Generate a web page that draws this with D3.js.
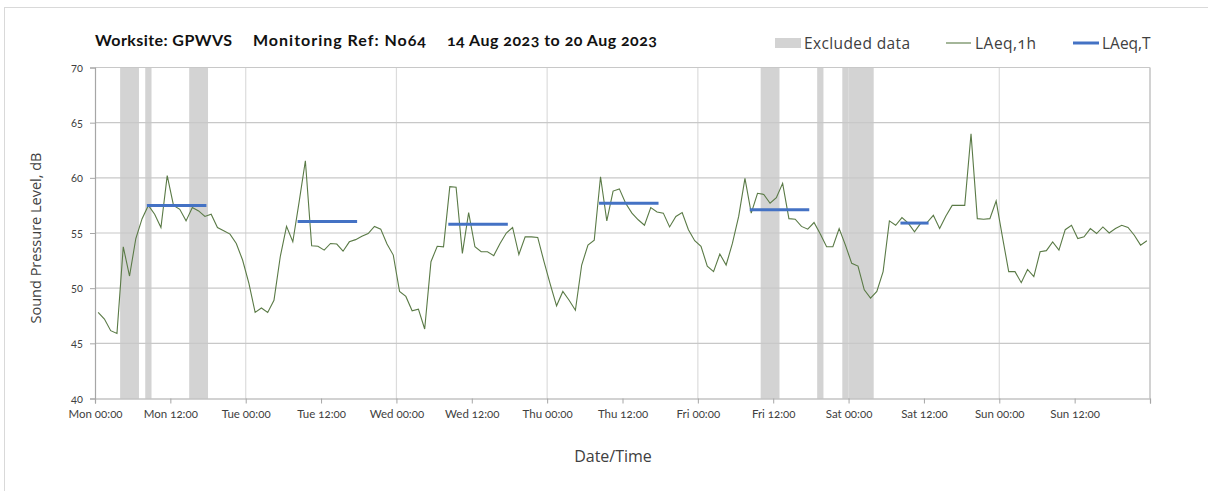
<!DOCTYPE html>
<html>
<head>
<meta charset="utf-8">
<script src="https://cdn.jsdelivr.net/npm/d3@7"></script>
<style>
  html, body { margin: 0; padding: 0; background: #ffffff; }
  svg { display: block; font-family: "Lato", "Open Sans", sans-serif; font-variant-numeric: oldstyle-nums; }
</style>
</head>
<body>
<svg id="chart" width="1208" height="491"></svg>
<script>
// Hourly LAeq,1h values (dB), Mon 14 Aug 00:00 to Sun 20 Aug 23:00
const monday    = [47.8, 47.2, 46.15, 45.9, 53.75, 51.1, 54.5, 56.3, 57.5, 56.7, 55.5, 60.2, 57.5, 57.15, 56.1, 57.3, 57.0, 56.5, 56.7, 55.5, 55.2, 54.9, 54.05, 52.55];
const tuesday   = [50.45, 47.8, 48.2, 47.8, 48.9, 52.85, 55.6, 54.2, 57.8, 61.55, 53.85, 53.8, 53.45, 54.05, 54.0, 53.35, 54.2, 54.4, 54.7, 54.95, 55.6, 55.35, 54.0, 53.0];
const wednesday = [49.7, 49.25, 47.95, 48.1, 46.3, 52.4, 53.8, 53.75, 59.2, 59.15, 53.15, 56.85, 53.75, 53.3, 53.3, 52.95, 54.05, 55.0, 55.5, 53.05, 54.65, 54.65, 54.6, 52.4];
const thursday  = [50.35, 48.4, 49.7, 48.9, 48.0, 52.1, 53.9, 54.35, 60.1, 56.1, 58.8, 59.0, 57.7, 56.8, 56.2, 55.7, 57.3, 56.9, 56.8, 55.55, 56.5, 56.85, 55.3, 54.3];
const friday    = [53.8, 52.0, 51.5, 53.1, 52.1, 54.05, 56.5, 59.95, 56.8, 58.6, 58.5, 57.7, 58.2, 59.5, 56.3, 56.25, 55.6, 55.35, 55.95, 54.9, 53.75, 53.75, 55.4, 53.9];
const saturday  = [52.25, 52.0, 49.85, 49.1, 49.7, 51.5, 56.1, 55.7, 56.4, 55.9, 55.1, 55.9, 55.95, 56.6, 55.4, 56.55, 57.5, 57.5, 57.5, 64.0, 56.3, 56.25, 56.3, 57.9];
const sunday    = [54.65, 51.5, 51.5, 50.5, 51.7, 51.05, 53.3, 53.4, 54.2, 53.45, 55.3, 55.7, 54.5, 54.65, 55.4, 54.95, 55.55, 55.0, 55.4, 55.7, 55.5, 54.8, 53.9, 54.3];

// Excluded periods, [start hour, end hour] from Mon 00:00
const excludedPeriods = [[4, 7], [8, 9], [15, 18], [106, 109], [115, 116], [119, 124]];

// LAeq,T over each daytime period: [start hour, end hour, level dB]
const laeqTPeriods = [
  [8.5, 17.5, 57.5],
  [32.5, 41.5, 56.05],
  [56.5, 65.5, 55.8],
  [80.5, 89.5, 57.7],
  [104.5, 113.5, 57.1],
  [128.5, 132.5, 55.9]
];

const xTickLabels = ["Mon 00:00", "Mon 12:00", "Tue 00:00", "Tue 12:00", "Wed 00:00", "Wed 12:00",
  "Thu 00:00", "Thu 12:00", "Fri 00:00", "Fri 12:00", "Sat 00:00", "Sat 12:00", "Sun 00:00", "Sun 12:00"];
const yTicks = [40, 45, 50, 55, 60, 65, 70];

const titleParts = ["Worksite: GPWVS", "Monitoring Ref: No64", "14 Aug 2023 to 20 Aug 2023"];
const legendLabels = ["Excluded data", "LAeq,1h", "LAeq,T"];

const hourly = [].concat(monday, tuesday, wednesday, thursday, friday, saturday, sunday);
// each hourly value sits at the middle of its hour
const points = hourly.map((v, i) => ({ h: i + 0.5, v }));

const svg = d3.select("#chart");
const plot = { left: 95, right: 1150, top: 67.5, bottom: 398.5 };

const x = d3.scaleLinear().domain([0, 168]).range([plot.left, plot.right]);
const y = d3.scaleLinear().domain([40, 70]).range([plot.bottom, plot.top]);

// outer frame
svg.append("rect")
  .attr("x", 4.5).attr("y", 7.5).attr("width", 1300).attr("height", 600)
  .attr("fill", "none").attr("stroke", "#d9d9d9").attr("stroke-width", 1);

// excluded data bands
svg.append("g").selectAll("rect").data(excludedPeriods).join("rect")
  .attr("x", d => x(d[0]))
  .attr("width", d => x(d[1]) - x(d[0]))
  .attr("y", y(70))
  .attr("height", y(40) - y(70))
  .attr("fill", "#d3d3d3");

// vertical gridlines at midnight
const dayLines = d3.range(24, 168, 24);
svg.append("g").selectAll("line").data(dayLines).join("line")
  .attr("x1", d => x(d)).attr("x2", d => x(d))
  .attr("y1", y(70)).attr("y2", y(40))
  .attr("stroke", "#dcdcdc").attr("stroke-width", 1.2);

// right-hand boundary
svg.append("line")
  .attr("x1", x(168)).attr("x2", x(168))
  .attr("y1", y(70)).attr("y2", y(40))
  .attr("stroke", "#b4b4b4").attr("stroke-width", 1.2);

// horizontal gridlines
svg.append("g").selectAll("line").data(yTicks.filter(t => t > 40)).join("line")
  .attr("x1", x(0)).attr("x2", x(168))
  .attr("y1", d => y(d)).attr("y2", d => y(d))
  .attr("stroke", "#c8c8c8").attr("stroke-width", 1.2);

// y axis
const yAxis = svg.append("g")
  .attr("transform", `translate(${plot.left},0)`)
  .call(d3.axisLeft(y).tickValues(yTicks).tickSize(5).tickPadding(7).tickFormat(d3.format("d")));
yAxis.select(".domain").attr("stroke", "#a6a6a6").attr("stroke-width", 1.2);
yAxis.selectAll(".tick line").attr("stroke", "#a6a6a6");
yAxis.selectAll(".tick text")
  .attr("font-family", "Lato, sans-serif").attr("font-size", 11).attr("fill", "#404040");

// x axis
const xTickValues = d3.range(0, 169, 12);
const xAxis = svg.append("g")
  .attr("transform", `translate(0,${plot.bottom})`)
  .call(d3.axisBottom(x).tickValues(xTickValues).tickSize(5).tickPadding(6)
    .tickFormat((d, i) => xTickLabels[i] || ""));
xAxis.select(".domain").attr("stroke", "#a6a6a6").attr("stroke-width", 1.2);
xAxis.selectAll(".tick line").attr("stroke", "#a6a6a6");
xAxis.selectAll(".tick text")
  .attr("font-family", "Lato, sans-serif").attr("font-size", 11.5).attr("fill", "#404040");

// LAeq,1h line
const line = d3.line().x(d => x(d.h)).y(d => y(d.v));
svg.append("path")
  .datum(points)
  .attr("d", line)
  .attr("fill", "none")
  .attr("stroke", "#5a7a46")
  .attr("stroke-width", 1.1)
  .attr("stroke-linejoin", "miter");

// LAeq,T segments
svg.append("g").selectAll("line").data(laeqTPeriods).join("line")
  .attr("x1", d => x(d[0])).attr("x2", d => x(d[1]))
  .attr("y1", d => y(d[2])).attr("y2", d => y(d[2]))
  .attr("stroke", "#4472c4").attr("stroke-width", 3).attr("stroke-linecap", "square");

// title
const titleX = [95, 253, 447];
const titleW = [137, 173, 210];
const title = svg.append("text")
  .attr("y", 46)
  .attr("font-family", "Lato, sans-serif")
  .attr("font-weight", "bold")
  .attr("font-size", 16)
  .attr("fill", "#111111");
title.selectAll("tspan").data(titleParts).join("tspan")
  .attr("x", (d, i) => titleX[i])
  .attr("textLength", (d, i) => titleW[i])
  .attr("lengthAdjust", "spacing")
  .text(d => d);

// legend
const legend = svg.append("g")
  .attr("font-family", "'Open Sans', sans-serif")
  .attr("font-size", 15.5)
  .attr("fill", "#404040");
legend.append("rect")
  .attr("x", 775).attr("y", 38).attr("width", 26).attr("height", 10)
  .attr("fill", "#d3d3d3");
legend.append("text").attr("x", 804).attr("y", 48.5)
  .attr("textLength", 106).attr("lengthAdjust", "spacing").text(legendLabels[0]);
legend.append("line")
  .attr("x1", 946).attr("x2", 971).attr("y1", 43).attr("y2", 43)
  .attr("stroke", "#5a7a46").attr("stroke-width", 1.1);
legend.append("text").attr("x", 975).attr("y", 48.5)
  .attr("textLength", 61).attr("lengthAdjust", "spacing").text(legendLabels[1]);
legend.append("line")
  .attr("x1", 1073).attr("x2", 1099).attr("y1", 43).attr("y2", 43)
  .attr("stroke", "#4472c4").attr("stroke-width", 3);
legend.append("text").attr("x", 1102).attr("y", 48.5).text(legendLabels[2]);

// axis titles
svg.append("text")
  .attr("x", 613).attr("y", 462)
  .attr("text-anchor", "middle")
  .attr("font-family", "'Open Sans', sans-serif")
  .attr("font-size", 16)
  .attr("fill", "#404040")
  .text("Date/Time");

svg.append("text")
  .attr("transform", "translate(41,238) rotate(-90)")
  .attr("text-anchor", "middle")
  .attr("font-family", "'Open Sans', sans-serif")
  .attr("font-size", 14.5)
  .attr("fill", "#404040")
  .text("Sound Pressure Level, dB");
</script>
</body>
</html>
